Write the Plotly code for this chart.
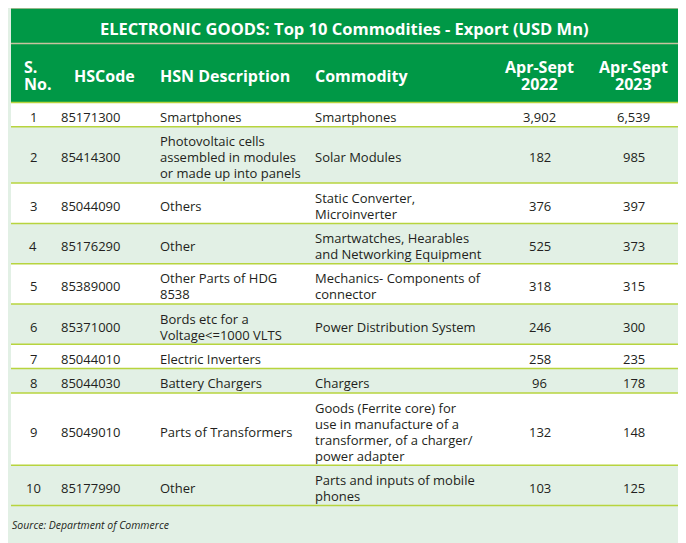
import plotly.graph_objects as go

# ---------------- data ----------------
title = "ELECTRONIC GOODS: Top 10 Commodities - Export (USD Mn)"
header_labels = ["S.<br>No.", "HSCode", "HSN Description", "Commodity",
                 "Apr-Sept<br>2022", "Apr-Sept<br>2023"]
s_no = [1, 2, 3, 4, 5, 6, 7, 8, 9, 10]
hs_code = ["85171300", "85414300", "85044090", "85176290", "85389000",
           "85371000", "85044010", "85044030", "85049010", "85177990"]
hsn_description = [
    "Smartphones",
    "Photovoltaic cells<br>assembled in modules<br>or made up into panels",
    "Others",
    "Other",
    "Other Parts of HDG<br>8538",
    "Bords etc for a<br>Voltage&lt;=1000 VLTS",
    "Electric Inverters",
    "Battery Chargers",
    "Parts of Transformers",
    "Other",
]
commodity = [
    "Smartphones",
    "Solar Modules",
    "Static Converter,<br>Microinverter",
    "Smartwatches, Hearables<br>and Networking Equipment",
    "Mechanics- Components of<br>connector",
    "Power Distribution System",
    "",
    "Chargers",
    "Goods (Ferrite core) for<br>use in manufacture of a<br>transformer, of a charger/<br>power adapter",
    "Parts and inputs of mobile<br>phones",
]
export_2022 = [3902, 182, 376, 525, 318, 246, 258, 96, 132, 103]
export_2023 = [6539, 985, 397, 373, 315, 300, 235, 178, 148, 125]
source_note = "Source: Department of Commerce"

# ---------------- style / geometry ----------------
W, H = 686, 543
PAGE_OFFSET = 8  # default body margin of the html page
BG = "#e2f0e5"
GREEN = "#009846"
ROW_ALT = "#e2f0e5"
LINE_COL = "#b7d43e"
TAN = "#c8c2a0"
TXT = "#231f20"
FONT = "Open Sans"

X0, X1 = 11, 678
TITLE_TOP, TITLE_BOT, HEAD_BOT = 8, 43.5, 102.5
BODY_LH, BODY_PAD = 16, 8.3
HEAD_LH = 17.5
TEXT_DY = 2.5

# column anchors: (x, anchor) for header and body
head_cols = [(23, "left"), (73, "left"), (159, "left"), (314, "left"),
             (539.5, "center"), (633.5, "center")]
body_cols = [(33, "center"), (60, "left"), (159, "left"), (314, "left"),
             (539.5, "center"), (633.5, "center")]

fig = go.Figure()
shapes = []
annotations = []


def add_text(x, yc, text, lh, anchor, size, color, bold=False, italic=False):
    lines = text.split("<br>") if text else []
    n = len(lines)
    for i, ln in enumerate(lines):
        y = yc + (i - (n - 1) / 2) * lh
        t = f"<b>{ln}</b>" if bold else ln
        if italic:
            t = f"<i>{t}</i>"
        annotations.append(dict(
            x=x, y=y, xref="x", yref="y", text=t, showarrow=False,
            xanchor=anchor, yanchor="middle", borderpad=0,
            font=dict(family=FONT, size=size, color=color)))


# title band and header band
shapes.append(dict(type="rect", x0=X0, x1=X1, y0=TITLE_TOP, y1=HEAD_BOT,
                   fillcolor=GREEN, line_width=0, layer="below"))
shapes.append(dict(type="line", x0=X0, x1=X1, y0=TITLE_TOP, y1=TITLE_TOP,
                   line=dict(color=TAN, width=1.5)))
shapes.append(dict(type="line", x0=X0, x1=X1, y0=TITLE_BOT, y1=TITLE_BOT,
                   line=dict(color=TAN, width=1.5)))
shapes.append(dict(type="line", x0=X0, x1=X1, y0=HEAD_BOT, y1=HEAD_BOT,
                   line=dict(color=LINE_COL, width=1.5)))

add_text((X0 + X1) / 2, (TITLE_TOP + TITLE_BOT) / 2 + TEXT_DY, title,
         HEAD_LH, "center", 16.5, "white", bold=True)
for (x, anc), lab in zip(head_cols, header_labels):
    add_text(x, (TITLE_BOT + HEAD_BOT) / 2 + TEXT_DY, lab, HEAD_LH, anc, 16,
             "white", bold=True)

# body rows
y = HEAD_BOT
for i in range(len(s_no)):
    cells = [str(s_no[i]), hs_code[i], hsn_description[i], commodity[i],
             f"{export_2022[i]:,}", f"{export_2023[i]:,}"]
    nlines = max(len(c.split("<br>")) for c in cells)
    h = BODY_LH * nlines + BODY_PAD
    fill = "white" if i % 2 == 0 else ROW_ALT
    shapes.append(dict(type="rect", x0=X0, x1=X1, y0=y, y1=y + h,
                       fillcolor=fill, line_width=0, layer="below"))
    shapes.append(dict(type="line", x0=X0, x1=X1, y0=y + h, y1=y + h,
                       line=dict(color=LINE_COL, width=1.5)))
    yc = y + h / 2 + TEXT_DY
    for (x, anc), c in zip(body_cols, cells):
        add_text(x, yc, c, BODY_LH, anc, 13, TXT)
    y += h

add_text(X0, y + 19, source_note, 14, "left", 10.5, TXT, italic=True)

fig.update_layout(
    width=W, height=H,
    margin=dict(l=0, r=0, t=0, b=0),
    paper_bgcolor=BG, plot_bgcolor=BG,
    xaxis=dict(range=[PAGE_OFFSET, W + PAGE_OFFSET], visible=False,
               fixedrange=True),
    yaxis=dict(range=[H + PAGE_OFFSET, PAGE_OFFSET], visible=False,
               fixedrange=True),
    shapes=shapes, annotations=annotations,
    showlegend=False,
)

fig.write_html("out.html", config={"displayModeBar": False})
